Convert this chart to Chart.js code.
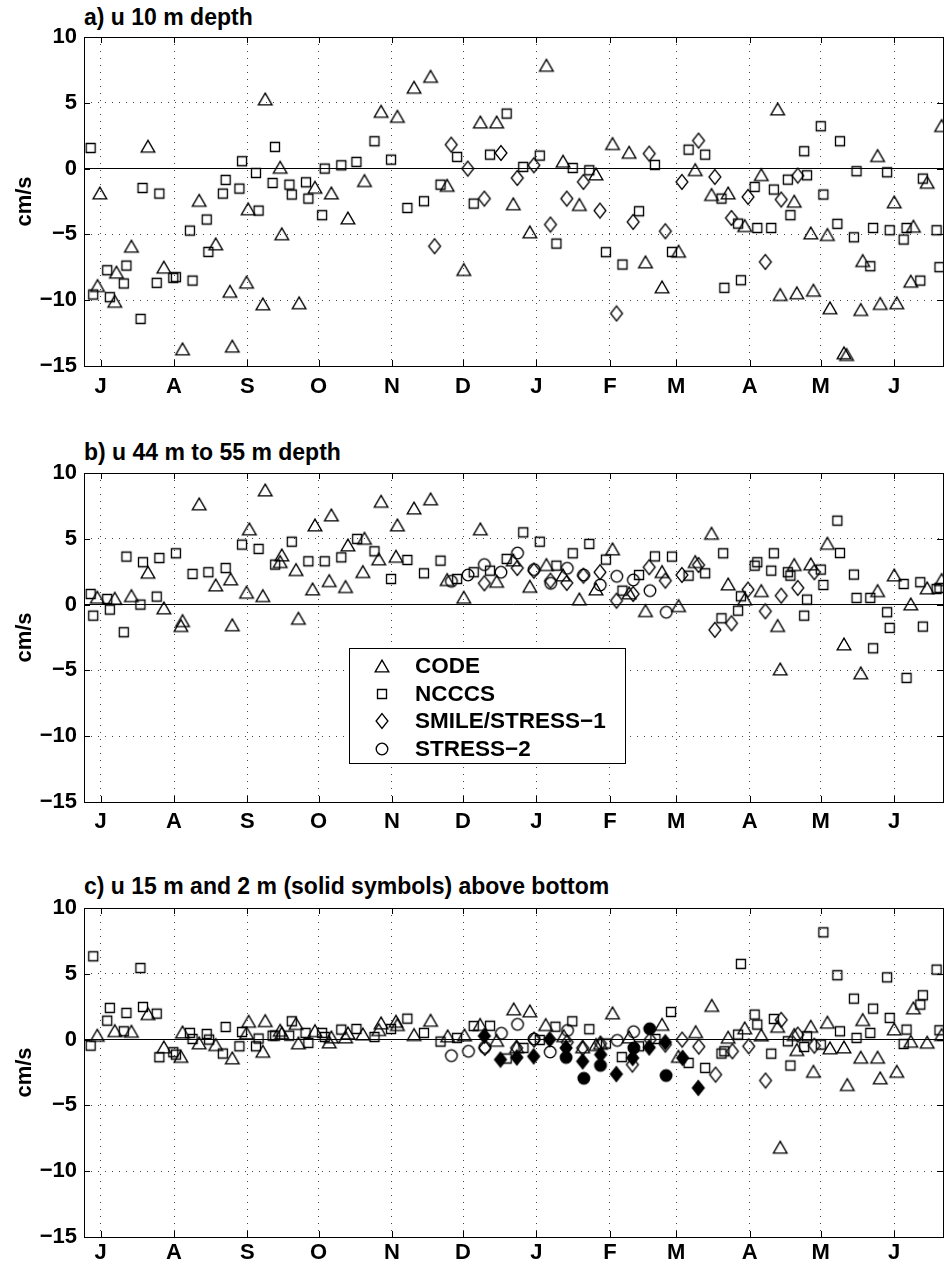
<!DOCTYPE html>
<html>
<head>
<meta charset="utf-8">
<script src="https://cdn.jsdelivr.net/npm/chart.js@4.4.1/dist/chart.umd.min.js"></script>
<style>
  html, body { margin: 0; padding: 0; background: #fff; }
  #page { position: relative; width: 950px; height: 1266px; overflow: hidden; background: #fff; }
  .panel { position: absolute; left: 0; width: 950px; height: 410px; }
  .panel canvas { display: block; }
  .title {
    position: absolute; left: 84px; color: #000; white-space: nowrap;
    font: bold 23px "Liberation Sans", Arial, Helvetica, sans-serif; line-height: 23px;
  }
</style>
</head>
<body>
<div id="page">
  <div class="title" style="top:6px">a) u 10 m depth</div>
  <div class="title" style="top:441px">b) u 44 m to 55 m depth</div>
  <div class="title" style="top:875px">c) u 15 m and 2 m (solid symbols) above bottom</div>
  <div class="panel" style="top:0px"><canvas id="panelA" width="950" height="410"></canvas></div>
  <div class="panel" style="top:436px"><canvas id="panelB" width="950" height="410"></canvas></div>
  <div class="panel" style="top:871px"><canvas id="panelC" width="950" height="410"></canvas></div>
</div>
<script>
// x is days since 1 July; months are labelled at their first day
const monthStart = [0, 31, 62, 92, 123, 153, 184, 215, 243, 274, 304, 335];
const monthLabel = ["J", "A", "S", "O", "N", "D", "J", "F", "M", "A", "M", "J"];

// a) 10 m depth
const codeA = [[-0.3,-1.85],[-1.3,-8.89],[6.0,-10.08],[6.7,-7.87],[13.0,-5.9],[20.0,1.7],[26.7,-7.49],[34.6,-13.7],[41.6,-2.41],[48.6,-5.72],[54.6,-9.32],[55.6,-13.49],[61.6,-8.63],[62.3,-3.06],[68.5,-10.28],[69.5,5.29],[75.8,0.1],[76.5,-4.96],[83.8,-10.2],[90.5,-1.42],[97.4,-1.85],[104.4,-3.75],[111.4,-0.91],[118.4,4.35],[125.3,3.97],[132.3,6.18],[139.3,7.01],[146.3,-1.27],[153.3,-7.67],[160.3,3.54],[167.2,3.54],[174.2,-2.68],[181.2,-4.81],[188.2,7.85],[195.2,0.56],[202.1,-2.73],[209.1,-0.41],[216.1,1.9],[223.1,1.24],[230.0,-7.09],[237.0,-8.99],[244.0,-6.28],[251.0,-0.08],[257.9,-1.97],[264.9,-1.85],[271.9,-4.33],[278.9,-0.46],[285.8,4.53],[286.9,-9.57],[292.8,-2.48],[293.9,-9.44],[299.8,-4.89],[300.9,-9.24],[306.8,-5.01],[307.9,-10.58],[313.8,-14.0],[314.9,-14.13],[320.9,-10.71],[321.7,-6.99],[328.0,0.99],[329.1,-10.25],[335.0,-2.53],[336.1,-10.2],[342.0,-8.56],[343.1,-4.38],[348.9,-1.04],[355.0,3.27]];
const ncccsA = [[-4.2,1.57],[-3.1,-9.57],[2.8,-7.72],[3.9,-9.77],[9.8,-8.73],[10.9,-7.37],[16.9,-11.42],[17.7,-1.47],[23.7,-8.68],[24.8,-1.9],[30.7,-8.3],[31.8,-8.25],[37.7,-4.71],[38.8,-8.51],[44.8,-3.87],[45.5,-6.33],[51.6,-1.9],[52.8,-0.86],[58.6,-1.52],[59.7,0.56],[65.6,-0.33],[66.7,-3.19],[72.6,-1.09],[73.6,1.65],[79.7,-1.22],[80.7,-1.97],[86.7,-1.04],[87.7,-2.28],[93.5,-3.54],[94.6,0.0],[101.6,0.25],[108.0,0.51],[115.6,2.08],[122.6,0.68],[129.5,-2.99],[136.5,-2.48],[143.5,-1.22],[150.5,0.89],[157.5,-2.66],[164.4,1.06],[171.4,4.18],[178.4,0.13],[185.4,0.99],[192.4,-5.7],[199.3,0.05],[206.3,-0.13],[213.3,-6.35],[220.3,-7.29],[227.3,-3.24],[234.0,0.28],[241.2,-6.33],[248.2,1.44],[255.2,1.06],[262.1,-2.28],[263.3,-9.06],[269.1,-4.18],[270.3,-8.48],[276.1,-1.39],[277.2,-4.51],[283.1,-4.51],[284.2,-1.59],[290.1,-0.84],[291.2,-3.54],[297.0,1.32],[298.2,-0.51],[304.0,3.22],[305.1,-1.97],[311.0,-4.2],[312.1,2.08],[318.0,-5.22],[319.1,-0.2],[324.9,-7.42],[326.1,-4.51],[332.0,-0.28],[333.1,-4.68],[339.0,-5.39],[340.2,-4.51],[346.0,-8.51],[347.1,-0.76],[352.9,-4.68],[354.1,-7.49]];
const smileA = [[141.0,-5.9],[148.0,1.82],[155.0,0.0],[162.0,-2.28],[169.0,1.19],[175.9,-0.71],[182.9,0.25],[189.9,-4.25],[196.8,-2.28],[203.8,-1.01],[210.8,-3.19],[217.8,-11.01],[224.8,-4.05],[231.6,1.14],[238.4,-4.76],[245.4,-1.01],[252.4,2.13],[259.3,-0.63],[266.3,-3.75],[273.3,-2.15],[280.6,-7.09],[287.3,-2.35],[294.3,-0.53]];

// b) 44 m to 55 m depth
const codeB = [[-1.4,0.56],[6.0,0.48],[13.0,0.68],[20.0,2.46],[26.7,-0.25],[33.9,-1.59],[34.6,-1.22],[41.6,7.65],[48.6,1.49],[54.9,1.95],[55.6,-1.54],[61.6,0.94],[62.8,5.75],[68.5,0.68],[69.5,8.71],[75.8,3.27],[76.5,3.77],[82.5,2.66],[83.5,-1.04],[89.5,1.19],[90.5,6.05],[96.5,1.82],[97.4,6.81],[103.4,1.37],[104.4,4.53],[110.7,2.51],[111.4,5.04],[117.4,3.47],[118.4,7.85],[124.7,3.67],[125.3,6.05],[132.3,7.34],[139.3,8.03],[146.3,1.9],[153.3,0.56],[160.3,5.75],[167.2,1.77],[174.2,3.39],[181.2,1.39],[188.2,3.04],[195.2,2.25],[202.1,0.43],[209.1,1.19],[216.1,4.23],[223.1,0.89],[230.0,-0.46],[237.0,2.51],[244.0,-0.08],[251.0,3.27],[257.9,5.42],[264.9,1.57],[271.9,0.43],[278.9,1.06],[285.8,-1.59],[286.9,-4.89],[292.8,3.04],[299.8,3.09],[306.8,4.66],[313.8,-2.99],[320.9,-5.19],[328.0,1.06],[335.0,2.25],[342.0,0.05],[348.9,1.27],[355.0,1.9]];
const ncccsB = [[-4.2,0.81],[-3.1,-0.84],[2.8,0.43],[3.9,-0.38],[9.8,-2.1],[10.9,3.65],[16.8,0.0],[17.9,3.22],[23.7,0.61],[24.8,3.54],[31.8,3.9],[38.8,2.33],[45.5,2.46],[52.8,2.78],[59.7,4.56],[66.7,4.23],[73.7,3.04],[80.7,4.78],[87.7,3.29],[94.6,3.29],[101.6,3.59],[108.3,4.99],[115.6,4.05],[122.6,1.95],[129.5,3.39],[136.5,2.38],[143.5,3.34],[150.5,1.95],[157.5,2.46],[164.4,2.58],[171.4,3.47],[178.4,5.49],[185.4,4.78],[192.4,2.96],[199.3,3.9],[206.3,4.61],[213.3,3.42],[220.3,1.06],[227.3,2.25],[234.0,3.66],[241.2,3.65],[248.2,2.2],[255.2,2.38],[262.1,-1.04],[262.8,3.9],[269.1,-0.46],[270.3,0.63],[276.1,2.96],[277.2,3.22],[283.1,2.58],[284.2,3.9],[290.1,2.46],[291.2,2.2],[297.0,-0.84],[298.2,0.38],[304.0,2.66],[305.1,1.49],[311.0,6.38],[312.1,3.92],[318.0,2.28],[319.1,0.51],[324.9,0.51],[326.1,-3.32],[332.0,-0.58],[333.1,-1.77],[339.0,1.57],[340.2,-5.57],[346.0,1.7],[347.1,-1.67],[352.9,1.19],[354.1,1.27]];
const smileB = [[162.0,1.62],[175.9,2.78],[182.9,2.58],[189.9,1.82],[196.8,1.65],[203.8,2.2],[210.8,2.46],[217.8,0.3],[224.8,0.81],[231.6,2.84],[238.4,1.82],[245.4,2.25],[252.4,3.01],[259.3,-1.92],[266.3,-1.42],[273.3,1.14],[280.6,-0.51],[287.3,0.68],[294.3,1.27],[301.3,2.46]];
const stressB = [[148.1,1.77],[155.1,2.25],[162.0,3.04],[169.0,2.46],[176.0,3.92],[183.0,2.66],[190.0,1.62],[197.0,2.76],[203.9,2.25],[210.9,1.49],[217.9,2.15],[224.9,1.87],[231.9,1.06],[238.8,-0.58]];

// c) 15 m above bottom (open) and 2 m above bottom (solid)
const codeC = [[-1.4,0.33],[6.0,0.68],[13.0,0.63],[20.0,1.97],[26.7,-0.56],[33.9,-1.27],[34.6,0.58],[41.6,-0.25],[48.6,-0.38],[55.6,-1.39],[61.6,0.51],[62.5,1.39],[68.5,-0.89],[69.5,1.44],[75.8,0.71],[76.5,0.51],[82.5,1.22],[83.5,-0.25],[90.5,0.68],[96.5,-0.18],[97.4,0.2],[103.4,0.2],[104.4,0.51],[110.7,0.43],[117.4,0.76],[118.4,1.27],[124.7,1.39],[125.3,1.14],[132.3,0.38],[139.3,1.47],[146.5,0.28],[153.6,0.35],[160.2,1.15],[167.2,-0.05],[174.4,2.33],[175.6,-0.55],[181.2,2.18],[187.9,1.14],[195.5,0.3],[203.5,-0.55],[209.1,-0.38],[211.0,-0.28],[216.1,2.03],[223.1,0.2],[237.0,1.16],[243.9,-1.27],[251.2,0.6],[258.0,2.6],[264.9,0.18],[271.9,0.89],[278.9,0.35],[285.8,1.01],[286.9,-8.18],[292.8,0.38],[293.9,-0.76],[299.8,1.01],[300.9,-2.41],[306.8,1.32],[307.9,-0.63],[313.8,-0.56],[315.2,-3.42],[320.9,-1.34],[321.7,1.52],[328.0,-1.34],[329.1,-2.91],[335.0,0.81],[336.1,-2.41],[342.0,-0.13],[343.1,2.41],[348.9,-0.2],[355.0,0.38]];
const ncccsC = [[-4.2,-0.46],[-3.1,6.33],[2.8,1.44],[3.9,2.41],[9.8,0.63],[10.9,2.03],[16.8,5.44],[17.9,2.48],[23.7,1.97],[24.8,-1.34],[30.7,-0.96],[31.8,-1.14],[37.7,0.51],[38.8,0.05],[44.8,0.43],[45.8,0.0],[51.6,-1.06],[52.8,0.96],[58.6,-0.51],[59.7,0.58],[65.6,-0.51],[66.7,0.08],[72.6,0.3],[73.7,0.3],[79.6,0.3],[80.7,1.39],[86.5,0.51],[87.7,-0.25],[93.5,0.51],[94.6,0.2],[101.6,0.76],[108.0,0.81],[115.6,0.2],[122.6,0.81],[129.5,1.59],[136.5,0.51],[143.5,-0.15],[150.5,0.13],[157.5,1.03],[164.4,1.05],[171.4,-1.44],[178.5,-0.63],[185.4,-0.03],[192.0,0.98],[199.1,1.39],[206.3,0.79],[213.3,-0.3],[220.0,-1.33],[227.3,-0.51],[234.2,0.05],[240.8,2.1],[248.2,-1.77],[255.2,-2.15],[262.1,-1.06],[263.3,-0.89],[269.1,0.38],[270.3,5.75],[276.1,1.9],[277.2,1.14],[283.1,-1.07],[284.2,1.57],[290.1,-0.13],[291.2,-1.97],[297.0,-0.56],[298.2,0.25],[304.0,-0.38],[305.1,8.15],[311.0,4.89],[312.1,0.63],[318.0,3.11],[319.1,0.13],[324.9,0.51],[326.1,2.35],[332.0,4.73],[333.1,1.65],[339.0,-0.33],[340.2,0.76],[346.0,2.66],[347.1,3.37],[352.9,5.32],[354.1,0.71]];
const smileC = [[162.2,-0.63],[175.6,-0.63],[183.0,0.0],[197.0,-0.2],[203.5,-0.63],[211.0,-0.3],[224.5,-1.9],[232.0,0.0],[238.4,-0.38],[245.5,0.0],[252.5,-0.53],[259.6,-2.66],[266.7,-0.89],[273.6,-0.51],[280.7,-3.11],[287.3,1.5],[294.3,0.38],[301.3,-0.46]];
const smileBottomC = [[162.0,0.28],[168.8,-1.52],[175.7,-1.36],[182.8,-1.27],[189.6,0.02],[196.5,-0.63],[203.5,-1.65],[211.1,-1.14],[217.7,-2.62],[224.6,-1.39],[231.6,-0.6],[238.4,-0.2],[245.7,-1.39],[252.3,-3.67]];
const stressC = [[148.1,-1.22],[155.3,-0.89],[162.2,-0.6],[169.2,0.48],[176.0,1.16],[183.0,0.05],[189.8,-0.94],[197.1,0.7],[218.1,-0.06],[225.0,0.6]];
const stressBottomC = [[196.5,-1.36],[204.0,-2.94],[211.0,-1.96],[225.1,-0.63],[231.8,0.82],[238.7,-2.73]];

const FONT = '"Liberation Sans", Arial, Helvetica, sans-serif';
Chart.defaults.font.family = FONT;
Chart.defaults.font.size = 22;
Chart.defaults.font.weight = "bold";
Chart.defaults.color = "#000";

// MATLAB-like marker glyphs, drawn once and reused as point styles
function makeMarker(shape, filled) {
  const c = document.createElement("canvas");
  c.width = 18;
  c.height = 18;
  const g = c.getContext("2d");
  g.lineWidth = 1.35;
  g.strokeStyle = "#000";
  g.fillStyle = "#000";
  g.beginPath();
  if (shape === "triangle") {
    g.moveTo(9, 3.2);
    g.lineTo(15.8, 14.8);
    g.lineTo(2.2, 14.8);
    g.closePath();
  } else if (shape === "square") {
    g.rect(4.5, 4.5, 9, 9);
  } else if (shape === "diamond") {
    g.moveTo(9, 1.6);
    g.lineTo(14.9, 9);
    g.lineTo(9, 16.4);
    g.lineTo(3.1, 9);
    g.closePath();
  } else {
    g.arc(9, 9, 5.8, 0, Math.PI * 2);
  }
  if (filled) g.fill();
  g.stroke();
  return c;
}

const triangle = makeMarker("triangle", false);
const square = makeMarker("square", false);
const diamond = makeMarker("diamond", false);
const circle = makeMarker("circle", false);
const solidDiamond = makeMarker("diamond", true);
const solidCircle = makeMarker("circle", true);

function series(label, pts, marker) {
  return {
    label: label,
    data: pts.map(([x, y]) => ({ x: x, y: y })),
    pointStyle: marker,
    pointRadius: 6,
    showLine: false,
  };
}

// Axes box with inward tick marks on all four sides
const frameBox = {
  id: "frameBox",
  afterDraw(chart) {
    const { ctx, chartArea: a, scales } = chart;
    ctx.save();
    ctx.strokeStyle = "#000";
    ctx.lineWidth = 1;
    ctx.strokeRect(Math.round(a.left) + 0.5, Math.round(a.top) + 0.5,
      Math.round(a.right - a.left), Math.round(a.bottom - a.top));
    ctx.beginPath();
    scales.x.ticks.forEach((t) => {
      const px = Math.round(scales.x.getPixelForValue(t.value)) + 0.5;
      ctx.moveTo(px, a.top);
      ctx.lineTo(px, a.top + 6);
      ctx.moveTo(px, a.bottom);
      ctx.lineTo(px, a.bottom - 6);
    });
    scales.y.ticks.forEach((t) => {
      const py = Math.round(scales.y.getPixelForValue(t.value)) + 0.5;
      ctx.moveTo(a.left, py);
      ctx.lineTo(a.left + 6, py);
      ctx.moveTo(a.right, py);
      ctx.lineTo(a.right - 6, py);
    });
    ctx.stroke();
    ctx.restore();
  },
};

// Boxed legend sitting inside the plot area
const boxLegend = {
  id: "boxLegend",
  afterDraw(chart, args, opts) {
    if (!opts.show) return;
    const { ctx, chartArea: a } = chart;
    const left = Math.round(a.left) + 265;
    const top = Math.round(a.top) + 175;
    const w = 276;
    const h = 115;
    ctx.save();
    ctx.fillStyle = "#fff";
    ctx.fillRect(left, top, w, h);
    ctx.strokeStyle = "#000";
    ctx.lineWidth = 1;
    ctx.strokeRect(left + 0.5, top + 0.5, w, h);
    ctx.font = "bold 22.5px " + FONT;
    ctx.textBaseline = "middle";
    ctx.fillStyle = "#000";
    chart.data.datasets.forEach((ds, i) => {
      const cy = top + 18 + i * 27.5;
      const m = ds.pointStyle;
      ctx.drawImage(m, left + 33 - m.width / 2, Math.round(cy - m.height / 2));
      ctx.fillText(ds.label, left + 66, cy + 1);
    });
    ctx.restore();
  },
};

function minusLabel(v) {
  return v < 0 ? "\u2212" + Math.abs(v) : String(v);
}

function makePanel(id, datasets, labelPad, withLegend) {
  return new Chart(document.getElementById(id), {
    type: "scatter",
    data: { datasets: datasets },
    plugins: [frameBox, boxLegend],
    options: {
      responsive: false,
      animation: false,
      devicePixelRatio: 1,
      layout: { padding: { top: 37, right: 0, bottom: 0, left: 0 } },
      plugins: {
        legend: { display: false },
        tooltip: { enabled: false },
        boxLegend: { show: withLegend },
      },
      scales: {
        x: {
          type: "linear",
          min: -7,
          max: 355.6,
          afterBuildTicks: (s) => {
            s.ticks = monthStart.map((v) => ({ value: v }));
          },
          afterFit: (s) => {
            s.height = 44;
          },
          ticks: {
            autoSkip: false,
            maxRotation: 0,
            padding: labelPad,
            callback: (v, i) => monthLabel[i],
          },
          grid: { color: "#444", drawTicks: false },
          border: { display: false, dash: [1, 6] },
        },
        y: {
          min: -15,
          max: 10,
          afterFit: (s) => {
            s.width = 84;
          },
          ticks: { stepSize: 5, padding: 7, callback: minusLabel },
          grid: {
            color: (c) => (c.tick && c.tick.value === 0 ? "#000" : "#444"),
            drawTicks: false,
          },
          border: {
            display: false,
            dash: (c) => (c.tick && c.tick.value === 0 ? [] : [1, 6]),
          },
          title: { display: true, text: "cm/s", padding: { top: 12, bottom: 0 } },
        },
      },
    },
  });
}

makePanel("panelA", [
  series("CODE", codeA, triangle),
  series("NCCCS", ncccsA, square),
  series("SMILE/STRESS\u22121", smileA, diamond),
], 8, false);

makePanel("panelB", [
  series("CODE", codeB, triangle),
  series("NCCCS", ncccsB, square),
  series("SMILE/STRESS\u22121", smileB, diamond),
  series("STRESS\u22122", stressB, circle),
], 7, true);

makePanel("panelC", [
  series("SMILE/STRESS\u22121 2 m", smileBottomC, solidDiamond),
  series("STRESS\u22122 2 m", stressBottomC, solidCircle),
  series("CODE", codeC, triangle),
  series("NCCCS", ncccsC, square),
  series("SMILE/STRESS\u22121", smileC, diamond),
  series("STRESS\u22122", stressC, circle),
], 3, false);
</script>
</body>
</html>
